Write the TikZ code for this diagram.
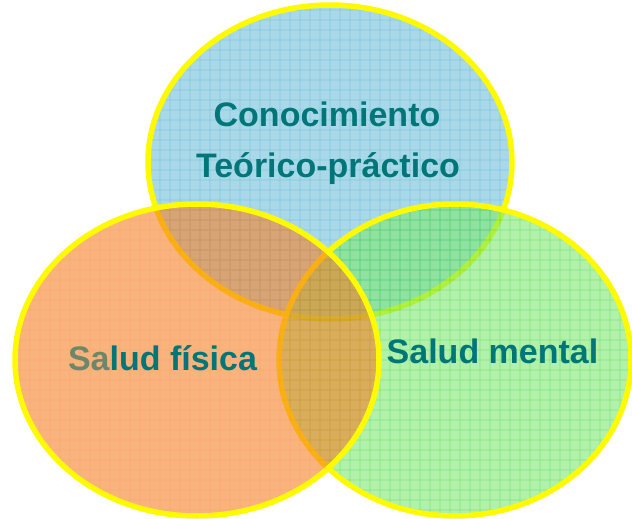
\documentclass[tikz,border=0pt]{standalone}
\usepackage{fontspec}
\setmainfont{Liberation Sans}
\definecolor{bluefill}{RGB}{112,192,219}
\definecolor{bluegrid}{RGB}{45,160,200}
\definecolor{orangefill}{RGB}{245,128,38}
\definecolor{orangegrid}{RGB}{245,110,15}
\definecolor{greenfill}{RGB}{125,232,112}
\definecolor{greengrid}{RGB}{40,210,40}
\definecolor{teal}{RGB}{0,118,120}
\definecolor{sagray}{RGB}{108,135,105}
\definecolor{ringyellow}{RGB}{255,250,0}
\tikzset{
  ring/.style={draw=ringyellow, line width=5.5pt},
  label/.style={font=\fontsize{34}{40}\selectfont\bfseries, text=teal, inner sep=0pt, anchor=base},
}
\newcommand{\vennset}[5]{% center, xr, yr, fill, grid
  \begin{scope}[transparency group, opacity=0.6]
    \fill[#4] #1 ellipse [x radius=#2, y radius=#3];
    \begin{scope}
      \clip #1 ellipse [x radius=#2, y radius=#3];
      \foreach \g in {0,10,...,640} {\draw[#5, line width=0.8pt] (\g,0) -- (\g,519);}
      \foreach \g in {0,10,...,520} {\draw[#5, line width=0.8pt] (0,\g) -- (632,\g);}
    \end{scope}
  \end{scope}
  \draw[ring] #1 ellipse [x radius=#2, y radius=#3];
}
\begin{document}
\begin{tikzpicture}[x=1pt, y=-1pt]
  \useasboundingbox (0,0) rectangle (632,519);
  \coordinate (ctop) at (330,162);
  \coordinate (cright) at (455,360);
  \coordinate (cleft) at (197,360);
  \vennset{(ctop)}{182pt}{157pt}{bluefill}{bluegrid}
  \vennset{(cright)}{176pt}{156pt}{greenfill}{greengrid}
  \vennset{(cleft)}{182pt}{156pt}{orangefill}{orangegrid}
  \node[label] (con) at (327,126) {Conocimiento};
  \node[label] (teo) at (328,177) {Teórico-práctico};
  \node[label] (fis) at (162.5,370) {\textcolor{sagray}{Sa}lud física};
  \node[label] (men) at (492.5,363) {Salud mental};
\end{tikzpicture}
\end{document}
